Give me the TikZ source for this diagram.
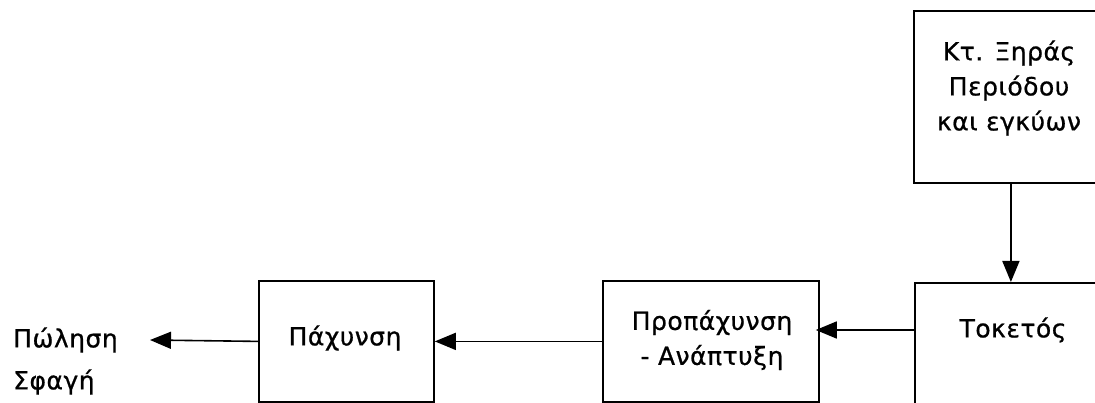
\documentclass[tikz,border=0pt]{standalone}
\usepackage{fontspec}
\setmainfont{DejaVu Sans}[LetterSpace=2, FakeBold=0.8]
\usetikzlibrary{arrows.meta}
\begin{document}
\begin{tikzpicture}[x=1pt,y=-1pt,
  box/.style={draw=black, line width=1.8pt, inner sep=0pt, anchor=north west},
  lbl/.style={font=\fontsize{25}{35}\selectfont, align=center, inner sep=0pt},
  arr/.style={line width=1.6pt, -{Triangle[length=21pt,width=17pt]}}]
\useasboundingbox (0,0) rectangle (1095,403);
\clip (0,0) rectangle (1095,403);
% boxes
\node[box, minimum width=194pt, minimum height=172pt] (kt) at (913,10) {};
\node[box, minimum width=192pt, minimum height=140pt] (tok) at (914,282) {};
\node[box, minimum width=216pt, minimum height=121pt] (prop) at (602,280) {};
\node[box, minimum width=175pt, minimum height=121pt] (pach) at (258,280) {};
% texts
\node[lbl] (kttext) at (1009,88) {Κτ. Ξηράς\\Περιόδου\\και εγκύων};
\node[lbl] (toktext) at (1013,330) {Τοκετός};
\node[lbl] (proptext) at (712,340) {Προπάχυνση\\- Ανάπτυξη};
\node[lbl] (pachtext) at (345,338) {Πάχυνση};
\node[lbl, align=left, anchor=west] (sale) at (13,361) {Πώληση\\[7pt]Σφαγή};
\coordinate (saleend) at (150,340);
% connectors
\draw[arr] (kt.south) -- (tok.north);
\draw[arr, shorten >=-4pt] (tok.west |- toktext) -- (prop.east |- toktext);
\draw[arr] (prop.west) -- (pach.east);
\draw[arr] (pach.west) -- (saleend);
\end{tikzpicture}
\end{document}
